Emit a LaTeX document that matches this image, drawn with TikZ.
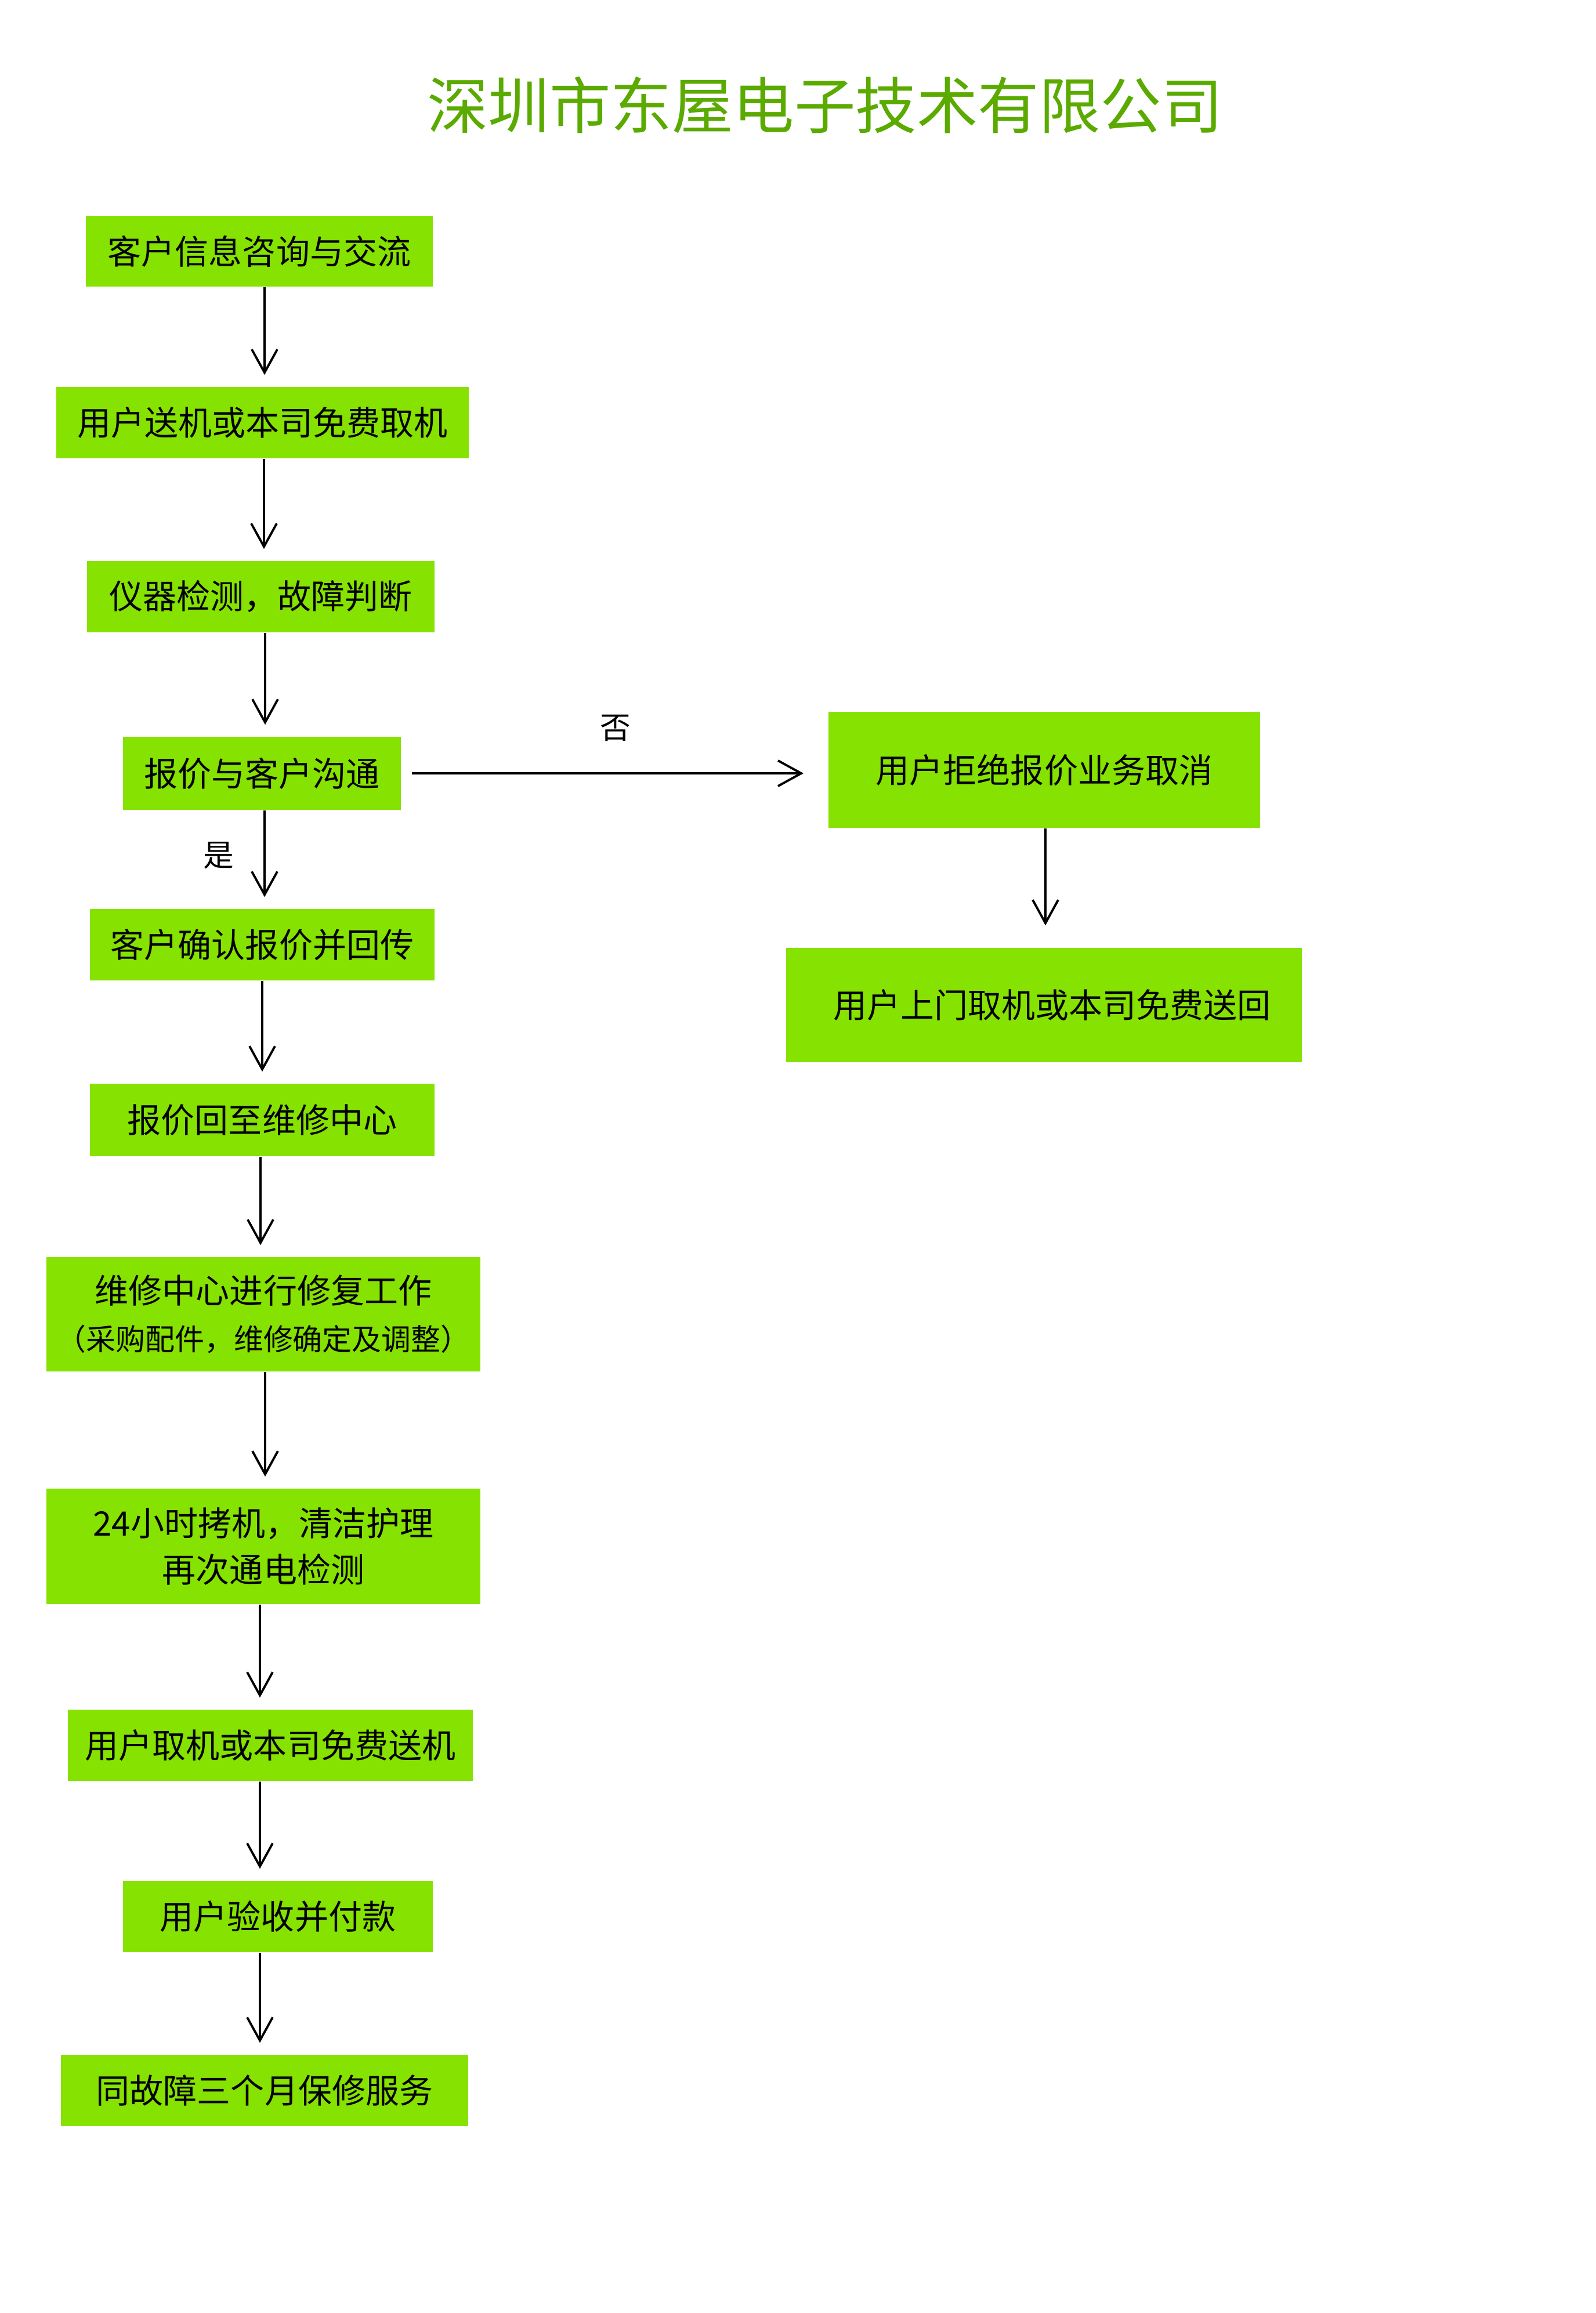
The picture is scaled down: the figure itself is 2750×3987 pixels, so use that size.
\documentclass[tikz,border=0pt]{standalone}
\usepackage{fontspec}
\setmainfont{Noto Sans CJK SC}
\usetikzlibrary{arrows.meta,calc}
\definecolor{boxgreen}{RGB}{134,226,0}
\definecolor{titlegreen}{RGB}{90,170,0}
\begin{document}
\begin{tikzpicture}[x=0.01cm,y=-0.01cm,
  box/.style={rectangle, fill=boxgreen, inner sep=0pt, align=center,
    font=\fontsize{16.5pt}{23pt}\selectfont, text=black},
  arr/.style={draw=black, line width=1.1pt,
    -{Straight Barb[length=0.4cm,width=0.44cm]}, shorten >=0.2cm},
  lbl/.style={font=\fontsize{15pt}{18pt}\selectfont, inner sep=0pt}]
\fill[white] (0,0) rectangle (2750,3987);
\useasboundingbox (0,0) rectangle (2750,3987);

\node[font=\fontsize{30pt}{36pt}\selectfont, text=titlegreen, inner sep=0pt] (title) at (1422,181) {深圳市东屋电子技术有限公司};

\node[box, minimum width=5.98cm, minimum height=1.22cm] (b1) at (447,433) {客户信息咨询与交流};
\node[box, minimum width=7.11cm, minimum height=1.23cm] (b2) at (452.5,728.5) {用户送机或本司免费取机};
\node[box, minimum width=5.99cm, minimum height=1.23cm] (b3) at (449.5,1028.5) {仪器检测，故障判断};
\node[box, minimum width=4.79cm, minimum height=1.26cm] (b4) at (451.5,1333) {报价与客户沟通};
\node[box, minimum width=5.94cm, minimum height=1.23cm] (b5) at (452,1628.5) {客户确认报价并回传};
\node[box, minimum width=5.94cm, minimum height=1.25cm] (b6) at (452,1930.5) {报价回至维修中心};
\node[box, minimum width=7.48cm, minimum height=1.97cm] (b7) at (454,2265.5) {维修中心进行修复工作\\{\fontsize{14.5pt}{23pt}\selectfont （采购配件，维修确定及调整）}};
\node[box, minimum width=7.48cm, minimum height=1.99cm] (b8) at (454,2665.5) {24小时拷机，清洁护理\\再次通电检测};
\node[box, minimum width=6.98cm, minimum height=1.23cm] (b9) at (466,3008.5) {用户取机或本司免费送机};
\node[box, minimum width=5.34cm, minimum height=1.23cm] (b10) at (479,3303.5) {用户验收并付款};
\node[box, minimum width=7.02cm, minimum height=1.23cm] (b11) at (456,3603.5) {同故障三个月保修服务};

\node[box, minimum width=7.44cm, minimum height=2.00cm] (r1) at (1800,1327) {用户拒绝报价业务取消};
\node[box, minimum width=8.89cm, minimum height=1.97cm] (r2) at (1799.5,1732.5) {\hspace*{0.28cm}用户上门取机或本司免费送回};

\node[lbl] (no) at (1061,1255) {否};
\node[lbl] (yes) at (377,1475) {是};

\coordinate (x1) at (456,0);
\coordinate (x2) at (455,0);
\coordinate (x3) at (457,0);
\coordinate (x4) at (456,0);
\coordinate (x5) at (452,0);
\coordinate (x6) at (449,0);
\coordinate (x7) at (457,0);
\coordinate (x8) at (448,0);
\coordinate (x9) at (448,0);
\coordinate (x10) at (448,0);
\coordinate (xr) at (1802,0);

\draw[arr] (b1.south -| x1) -- (b2.north -| x1);
\draw[arr] (b2.south -| x2) -- (b3.north -| x2);
\draw[arr] (b3.south -| x3) -- (b4.north -| x3);
\draw[arr] (b4.south -| x4) -- (b5.north -| x4);
\draw[arr] (b5.south -| x5) -- (b6.north -| x5);
\draw[arr] (b6.south -| x6) -- (b7.north -| x6);
\draw[arr] (b7.south -| x7) -- (b8.north -| x7);
\draw[arr] (b8.south -| x8) -- (b9.north -| x8);
\draw[arr] (b9.south -| x9) -- (b10.north -| x9);
\draw[arr] (b10.south -| x10) -- (b11.north -| x10);
\draw[arr, shorten >=0.38cm] (r1.south -| xr) -- (r2.north -| xr);
\draw[arr, shorten <=0.18cm, shorten >=0.42cm] (b4.east) -- (r1.west |- b4.east);
\end{tikzpicture}
\end{document}
